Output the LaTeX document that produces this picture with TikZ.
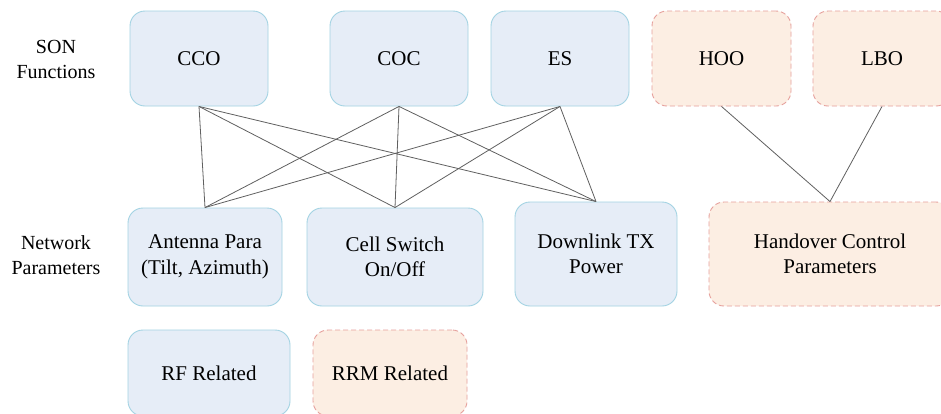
\documentclass[tikz,border=0pt]{standalone}
\usepackage{fontspec}
\setmainfont{Liberation Serif}
\definecolor{bfill}{HTML}{E6EDF7}
\definecolor{bdraw}{HTML}{A3D3E3}
\definecolor{ofill}{HTML}{FCEEE3}
\definecolor{odraw}{HTML}{E6A09C}
\definecolor{lgray}{HTML}{606060}
\begin{document}
\begin{tikzpicture}[x=1pt,y=-1pt,
  bluebox/.style={draw=bdraw,fill=bfill,line width=0.9pt,rounded corners=15pt,inner sep=0pt,align=center,font=\fontsize{21}{25.5}\selectfont},
  orangebox/.style={draw=odraw,fill=ofill,line width=0.9pt,dash pattern=on 5pt off 3pt,rounded corners=15pt,inner sep=0pt,align=center,font=\fontsize{21}{25.5}\selectfont},
  lbl/.style={align=center,inner sep=0pt,font=\fontsize{20}{25}\selectfont},
  conn/.style={draw=lgray,line width=0.8pt}]
\clip (0,0) rectangle (941,413);
\fill[white] (0,0) rectangle (941,413);
% labels
\node[lbl] (son) at (56,59) {SON\\Functions};
\node[lbl] (net) at (56,255) {Network\\Parameters};
% top row
\node[bluebox,minimum width=138pt,minimum height=95pt] (cco) at (199,58.5) {CCO};
\node[bluebox,minimum width=138pt,minimum height=95pt] (coc) at (399,58.5) {COC};
\node[bluebox,minimum width=138pt,minimum height=95pt] (es) at (560,58.5) {ES};
\node[orangebox,minimum width=139pt,minimum height=95pt] (hoo) at (721.5,58.5) {HOO};
\node[orangebox,minimum width=138pt,minimum height=95pt] (lbo) at (882,58.5) {LBO};
% middle row
\node[bluebox,minimum width=154pt,minimum height=98pt] (ant) at (205,257) {Antenna Para\\(Tilt, Azimuth)};
\node[bluebox,minimum width=176pt,minimum height=98pt] (cell) at (395,257) {Cell Switch\\On/Off};
\node[bluebox,minimum width=162pt,minimum height=104pt] (dl) at (596,254) {Downlink TX\\Power};
\node[orangebox,minimum width=242pt,minimum height=104pt] (ho) at (830,254) {Handover Control\\Parameters};
% bottom row
\node[bluebox,minimum width=162pt,minimum height=86pt] (rf) at (209,373) {RF Related};
\node[orangebox,minimum width=154pt,minimum height=86pt] (rrm) at (390,373) {RRM Related};
% connectors
\foreach \a in {cco,coc,es}{
  \foreach \b in {ant,cell,dl}{
    \draw[conn] (\a.south) -- (\b.north);
  }
}
\draw[conn] (hoo.south) -- (ho.north);
\draw[conn] (lbo.south) -- (ho.north);
\end{tikzpicture}
\end{document}
